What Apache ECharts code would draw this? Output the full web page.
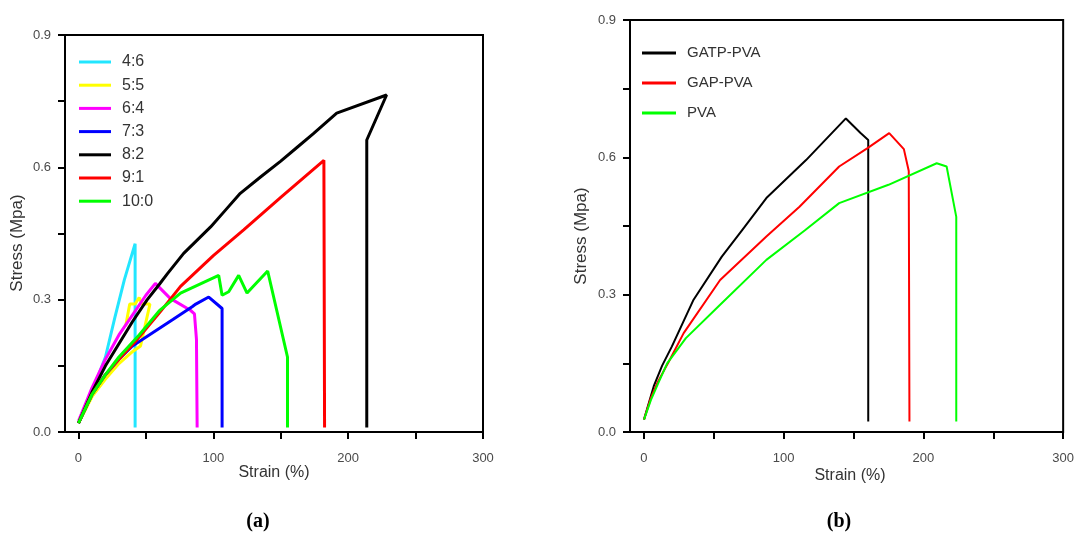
<!DOCTYPE html>
<html>
<head>
<meta charset="utf-8">
<script src="https://cdn.jsdelivr.net/npm/echarts@6/dist/echarts.min.js"></script>
<style>
html,body{margin:0;padding:0;background:#fff;}
#chart{width:1077px;height:538px;}
</style>
</head>
<body>
<div id="chart"></div>
<script>
// ---- Panel (a): stress-strain for different ratios ----
const namesA = ['4:6', '5:5', '6:4', '7:3', '8:2', '9:1', '10:0'];
const colorsA = ['#22e6ff', '#ffff00', '#ff00ff', '#0000ff', '#000000', '#ff0000', '#00ff00'];
const s46 = [[0,0.02],[5,0.055],[9,0.087],[15,0.13],[20,0.17],[27,0.26],[34,0.345],[42,0.427],[42,0.01]];
const s55 = [[0,0.02],[5,0.05],[10,0.08],[20,0.12],[30,0.155],[40,0.182],[46,0.195],[53,0.29],[47,0.29],[45,0.305],[42,0.29],[38,0.29],[35,0.24]];
const s64 = [[0,0.025],[10,0.1],[20,0.165],[30,0.22],[40,0.265],[50,0.31],[57,0.337],[68,0.303],[83,0.276],[86,0.268],[87.5,0.21],[88,0.01]];
const s73 = [[0,0.02],[10,0.085],[20,0.13],[30,0.165],[40,0.195],[48.5,0.212],[70,0.255],[84.3,0.284],[87,0.29],[96.6,0.306],[106.5,0.28],[106.5,0.01]];
const s82 = [[0,0.02],[10,0.09],[20,0.15],[30,0.2],[40,0.25],[51,0.3],[60,0.335],[66,0.359],[78,0.405],[88,0.435],[98,0.465],[109,0.503],[120,0.541],[135,0.578],[150,0.614],[162,0.645],[174,0.676],[191.5,0.723],[228.5,0.764],[213.8,0.662],[213.8,0.01]];
const s91 = [[0,0.02],[10,0.085],[20,0.13],[30,0.165],[43.6,0.21],[60,0.27],[75.7,0.33],[100,0.4],[122.5,0.458],[150,0.532],[182,0.616],[182.5,0.01]];
const s100 = [[0,0.02],[10,0.085],[20,0.13],[30,0.17],[45,0.22],[60,0.275],[75.7,0.315],[104,0.355],[106.5,0.31],[111.4,0.318],[118.8,0.355],[125,0.315],[140.3,0.365],[155,0.17],[155,0.01]];
const dataA = [s46, s55, s64, s73, s82, s91, s100];

// ---- Panel (b): GATP-PVA / GAP-PVA / PVA ----
const namesB = ['GATP-PVA', 'GAP-PVA', 'PVA'];
const colorsB = ['#000000', '#ff0000', '#00ff00'];
const gatp = [[0,0.027],[7,0.1],[13,0.145],[20,0.187],[35.5,0.289],[55.7,0.383],[70,0.44],[87.6,0.511],[116,0.594],[144.5,0.685],[155,0.653],[160.5,0.638],[160.5,0.023]];
const gap = [[0,0.027],[5,0.075],[10,0.11],[18,0.155],[28.4,0.216],[54.5,0.332],[87.6,0.427],[111.3,0.492],[139.7,0.58],[160,0.62],[175.5,0.653],[186,0.618],[189.5,0.57],[190,0.023]];
const pva = [[0,0.027],[5,0.07],[10,0.105],[16.6,0.15],[30,0.205],[54.5,0.278],[87.6,0.376],[115,0.44],[139.7,0.5],[175,0.54],[209.5,0.587],[216.6,0.58],[223.5,0.47],[223.5,0.023]];
const dataB = [gatp, gap, pva];

// ---- Axis ticks ----
const xTicks = [0, 50, 100, 150, 200, 250, 300];
const xLabels = [0, 100, 200, 300];
const yTicks = [0, 0.15, 0.3, 0.45, 0.6, 0.75, 0.9];
const yLabels = [0, 0.3, 0.6, 0.9];

const chart = echarts.init(document.getElementById('chart'), null, {renderer: 'canvas'});
const baseFont = 'Liberation Sans, Arial, sans-serif';

function xAxisDef(gi) {
  return {
    type: 'value', gridIndex: gi, min: -10, max: 300,
    splitLine: {show: false},
    axisLine: {show: true, onZero: false, lineStyle: {color: '#000', width: 2}},
    axisTick: {show: true, inside: false, length: 7, lineStyle: {color: '#000', width: 2}, customValues: xTicks},
    axisLabel: {show: true, margin: 20, color: '#4a4a4a', fontSize: 13, fontFamily: baseFont, customValues: xLabels}
  };
}
function yAxisDef(gi) {
  return {
    type: 'value', gridIndex: gi, min: 0, max: 0.9,
    splitLine: {show: false},
    axisLine: {show: true, onZero: false, lineStyle: {color: '#000', width: 2}},
    axisTick: {show: true, inside: false, length: 7, lineStyle: {color: '#000', width: 2}, customValues: yTicks},
    axisLabel: {show: true, margin: 14, color: '#4a4a4a', fontSize: 13, fontFamily: baseFont,
      customValues: yLabels, formatter: v => Number(v).toFixed(1)}
  };
}

const series = [];
dataA.forEach((d, i) => series.push({
  name: namesA[i], type: 'line', xAxisIndex: 0, yAxisIndex: 0, data: d,
  symbol: 'none', smooth: false, lineStyle: {color: colorsA[i], width: 3}, itemStyle: {color: colorsA[i]},
  animation: false
}));
dataB.forEach((d, i) => series.push({
  name: namesB[i], type: 'line', xAxisIndex: 1, yAxisIndex: 1, data: d,
  symbol: 'none', smooth: false, lineStyle: {color: colorsB[i], width: 2}, itemStyle: {color: colorsB[i]},
  animation: false
}));

chart.setOption({
  backgroundColor: '#ffffff',
  animation: false,
  grid: [
    {left: 65, top: 35, width: 418, height: 397, show: true, borderColor: '#000', borderWidth: 2, backgroundColor: 'transparent'},
    {left: 630, top: 20, width: 436, height: 412, show: true, borderColor: '#000', borderWidth: 2, backgroundColor: 'transparent'}
  ],
  xAxis: [xAxisDef(0), xAxisDef(1)],
  yAxis: [yAxisDef(0), yAxisDef(1)],
  legend: [
    {
      data: namesA, orient: 'vertical', left: 79, top: 52, padding: 0,
      icon: 'rect', itemWidth: 32, itemHeight: 3, itemGap: 3.2,
      textStyle: {fontSize: 16, lineHeight: 20, color: '#333', fontFamily: baseFont, padding: [0, 0, 0, 6]},
      selectedMode: false
    },
    {
      data: namesB, orient: 'vertical', left: 642, top: 43, padding: 0,
      icon: 'rect', itemWidth: 34, itemHeight: 3, itemGap: 10,
      textStyle: {fontSize: 15, lineHeight: 20, color: '#333', fontFamily: baseFont, padding: [0, 0, 0, 6]},
      selectedMode: false
    }
  ],
  graphic: [
    {type: 'text', x: 274, y: 473, style: {text: 'Strain (%)', fill: '#333', font: '16px Liberation Sans, Arial, sans-serif', textAlign: 'center', textVerticalAlign: 'middle'}},
    {type: 'text', x: 17, y: 243, rotation: Math.PI / 2, style: {text: 'Stress (Mpa)', fill: '#333', font: '17px Liberation Sans, Arial, sans-serif', textAlign: 'center', textVerticalAlign: 'middle'}},
    {type: 'text', x: 850, y: 476, style: {text: 'Strain (%)', fill: '#333', font: '16px Liberation Sans, Arial, sans-serif', textAlign: 'center', textVerticalAlign: 'middle'}},
    {type: 'text', x: 581, y: 236, rotation: Math.PI / 2, style: {text: 'Stress (Mpa)', fill: '#333', font: '17px Liberation Sans, Arial, sans-serif', textAlign: 'center', textVerticalAlign: 'middle'}},
    {type: 'text', x: 258, y: 522, style: {text: '(a)', fill: '#000', font: 'bold 20px Liberation Serif, Times New Roman, serif', textAlign: 'center', textVerticalAlign: 'middle'}},
    {type: 'text', x: 839, y: 522, style: {text: '(b)', fill: '#000', font: 'bold 20px Liberation Serif, Times New Roman, serif', textAlign: 'center', textVerticalAlign: 'middle'}}
  ],
  series: series
});
</script>
</body>
</html>
